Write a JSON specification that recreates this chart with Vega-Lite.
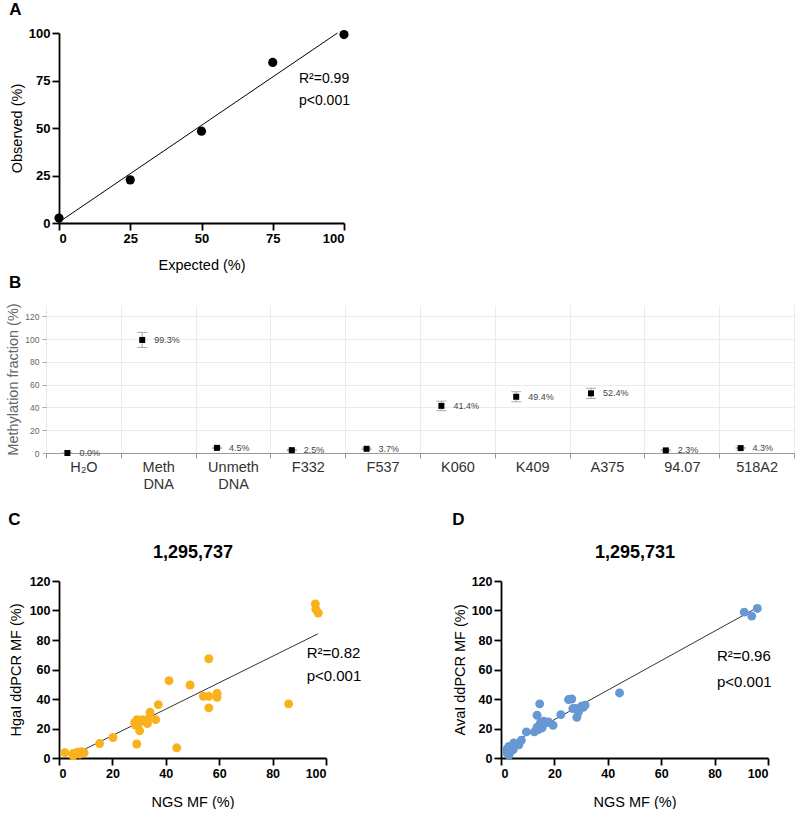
{
  "$schema": "https://vega.github.io/schema/vega-lite/v6.json",
  "padding": {"left": 4, "top": 1, "right": 2, "bottom": 0},
  "config": {
    "font": "Liberation Sans",
    "view": {"stroke": null},
    "axis": {"grid": false, "labelOverlap": false, "domainColor": "black", "domainWidth": 1.8, "tickColor": "black", "tickWidth": 1.8, "tickSize": 7, "labelFontWeight": "bold", "labelFontSize": 13, "labelColor": "black", "titleFontWeight": "normal", "titleFontSize": 14.5, "titleColor": "black", "labelPadding": 2},
    "title": {"fontSize": 17, "fontWeight": "bold", "color": "black"}
  },
  "spacing": 20,
  "vconcat": [
    {
      "spacing": 1,
      "vconcat": [
        {
          "title": {"text": "A", "anchor": "start", "frame": "bounds", "offset": 8},
          "width": 285,
          "height": 190,
          "encoding": {
            "x": {"field": "x", "type": "quantitative", "title": "Expected (%)", "scale": {"domain": [0, 100], "nice": false}, "axis": {"values": [0, 25, 50, 75, 100], "titlePadding": 13}},
            "y": {"field": "y", "type": "quantitative", "title": "Observed (%)", "scale": {"domain": [0, 100], "nice": false}, "axis": {"values": [0, 25, 50, 75, 100], "titlePadding": 4}}
          },
          "layer": [
            {
              "data": {"values": [{"x": 0.7, "y": 1.2}, {"x": 97.7, "y": 100}]},
              "mark": {"type": "line", "color": "black", "strokeWidth": 1}
            },
            {
              "data": {"values": [{"x": 0, "y": 2.6}, {"x": 25, "y": 22.7}, {"x": 50, "y": 48.3}, {"x": 75, "y": 84.5}, {"x": 100, "y": 99.2}]},
              "mark": {"type": "circle", "color": "black", "size": 85, "opacity": 1}
            },
            {
              "data": {"values": [{"x": 84.2, "y": 75.6, "t": "R²=0.99"}, {"x": 84.2, "y": 64.2, "t": "p<0.001"}]},
              "mark": {"type": "text", "align": "left", "baseline": "middle", "fontSize": 14, "color": "black"},
              "encoding": {"text": {"field": "t"}}
            }
          ]
        },
        {
          "title": {"text": "B", "anchor": "start", "frame": "group", "offset": 11, "dx": -50},
          "width": 735,
          "height": 148,
          "data": {"values": [
            {"cat": "H₂O", "v": 0.0, "lo": 0, "hi": 0, "lab": "0.0%"},
            {"cat": "Meth DNA", "v": 99.3, "lo": 92.7, "hi": 105.9, "lab": "99.3%"},
            {"cat": "Unmeth DNA", "v": 4.5, "lo": 3.9, "hi": 5.1, "lab": "4.5%"},
            {"cat": "F332", "v": 2.5, "lo": 1.9, "hi": 3.1, "lab": "2.5%"},
            {"cat": "F537", "v": 3.7, "lo": 3.1, "hi": 4.3, "lab": "3.7%"},
            {"cat": "K060", "v": 41.4, "lo": 37.2, "hi": 45.6, "lab": "41.4%"},
            {"cat": "K409", "v": 49.4, "lo": 45.0, "hi": 53.8, "lab": "49.4%"},
            {"cat": "A375", "v": 52.4, "lo": 47.9, "hi": 56.9, "lab": "52.4%"},
            {"cat": "94.07", "v": 2.3, "lo": 1.7, "hi": 2.9, "lab": "2.3%"},
            {"cat": "518A2", "v": 4.3, "lo": 3.8, "hi": 4.8, "lab": "4.3%"}
          ]},
          "encoding": {
            "x": {"field": "cat", "type": "nominal", "sort": null, "scale": {"paddingInner": 0, "paddingOuter": 0, "range": [-13, 735]},
              "axis": {"title": null, "labelAngle": 0, "labelExpr": "split(datum.label, ' ')", "labelFontSize": 14.5, "labelFontWeight": "normal", "labelColor": "#333", "labelLineHeight": 17, "labelPadding": 2, "tickBand": "extent", "grid": true, "gridColor": "#ebebeb", "gridWidth": 1, "domainColor": "#999", "domainWidth": 1, "tickColor": "#999", "tickWidth": 1, "tickSize": 5}},
            "y": {"field": "v", "type": "quantitative", "title": "Methylation fraction (%)", "scale": {"domain": [0, 130], "nice": false},
              "axis": {"values": [0, 20, 40, 60, 80, 100, 120], "offset": 13, "titleFontSize": 14.5, "titleColor": "#666", "titleX": -26, "titlePadding": 2, "labelFontSize": 8.5, "labelFontWeight": "normal", "labelColor": "#666", "grid": true, "gridColor": "#ebebeb", "domain": false, "tickColor": "#aaa", "tickWidth": 1, "tickSize": 4, "labelPadding": 3}}
          },
          "layer": [
            {
              "mark": {"type": "rule", "color": "#aaa", "strokeWidth": 1, "xOffset": -16},
              "encoding": {
                "y": {"field": "lo", "type": "quantitative", "title": "Methylation fraction (%)", "scale": {"domain": [0, 130], "nice": false}},
                "y2": {"field": "hi"}
              }
            },
            {
              "mark": {"type": "tick", "orient": "horizontal", "size": 10, "thickness": 1, "color": "#aaa", "opacity": 1, "xOffset": -16},
              "encoding": {
                "y": {"field": "lo", "type": "quantitative", "title": "Methylation fraction (%)", "scale": {"domain": [0, 130], "nice": false}}
              }
            },
            {
              "mark": {"type": "tick", "orient": "horizontal", "size": 10, "thickness": 1, "color": "#aaa", "opacity": 1, "xOffset": -16},
              "encoding": {
                "y": {"field": "hi", "type": "quantitative", "title": "Methylation fraction (%)", "scale": {"domain": [0, 130], "nice": false}}
              }
            },
            {
              "mark": {"type": "square", "color": "black", "size": 36, "opacity": 1, "filled": true, "xOffset": -16}
            },
            {
              "mark": {"type": "text", "align": "left", "baseline": "middle", "dx": 12, "xOffset": -16, "fontSize": 9, "color": "#444"},
              "encoding": {
                "text": {"field": "lab"}
              }
            }
          ]
        }
      ]
    },
    {
      "spacing": 90,
      "hconcat": [
        {
          "title": {"text": "C", "anchor": "start", "frame": "bounds", "offset": 14},
          "width": 267,
          "height": 177,
          "resolve": {"scale": {"x": "independent"}, "axis": {"x": "independent"}},
          "layer": [
            {
              "encoding": {
                "x": {"field": "x", "type": "quantitative", "title": "NGS MF (%)", "scale": {"domain": [0, 100], "nice": false}, "axis": {"values": [0, 20, 40, 60, 80, 100], "titlePadding": 16, "labelFontSize": 12.5}},
                "y": {"field": "y", "type": "quantitative", "title": "HgaI ddPCR MF (%)", "scale": {"domain": [0, 120], "nice": false}, "axis": {"values": [0, 20, 40, 60, 80, 100, 120], "titlePadding": 6, "labelFontSize": 12.5}}
              },
              "layer": [
                {
                  "data": {"values": [{"x": 5, "y": 1.8}, {"x": 97, "y": 84.2}]},
                  "mark": {"type": "line", "color": "#333", "strokeWidth": 1}
                },
                {
                  "data": {"values": [
                    {"x": 2.2, "y": 3.6}, {"x": 5.3, "y": 3.0}, {"x": 5.3, "y": 1.5}, {"x": 6.9, "y": 4.0}, {"x": 7.7, "y": 2.7}, {"x": 8.4, "y": 4.2}, {"x": 9.4, "y": 3.5},
                    {"x": 15.2, "y": 9.8}, {"x": 20.2, "y": 13.9}, {"x": 29.1, "y": 9.5}, {"x": 30.2, "y": 18.4},
                    {"x": 28.3, "y": 24.0}, {"x": 28.6, "y": 22.3}, {"x": 29.2, "y": 26.0}, {"x": 30.2, "y": 24.6}, {"x": 29.6, "y": 22.6}, {"x": 31.2, "y": 26.0},
                    {"x": 33.1, "y": 23.3}, {"x": 33.5, "y": 26.5}, {"x": 34.1, "y": 31.0}, {"x": 36.2, "y": 26.0}, {"x": 37.2, "y": 36.2},
                    {"x": 41.2, "y": 52.4}, {"x": 44.1, "y": 6.9}, {"x": 49.1, "y": 49.5}, {"x": 54.1, "y": 41.8}, {"x": 56.1, "y": 41.8}, {"x": 56.1, "y": 34.0}, {"x": 56.1, "y": 67.3},
                    {"x": 59.2, "y": 43.8}, {"x": 59.2, "y": 41.2}, {"x": 86.0, "y": 36.7},
                    {"x": 96.0, "y": 104.5}, {"x": 96.2, "y": 100.8}, {"x": 97.1, "y": 98.3}
                  ]},
                  "mark": {"type": "circle", "color": "#F9B21B", "size": 80, "opacity": 1}
                }
              ]
            },
            {
              "data": {"values": [{"x": 92.75, "y": 71.3, "t": "R²=0.82"}, {"x": 92.75, "y": 55.5, "t": "p<0.001"}]},
              "mark": {"type": "text", "align": "left", "baseline": "middle", "fontSize": 15, "color": "black"},
              "encoding": {
                "x": {"field": "x", "type": "quantitative", "title": "1,295,737", "scale": {"domain": [0, 100], "nice": false},
                  "axis": {"orient": "top", "labels": false, "ticks": false, "domain": false, "titleFontSize": 18, "titleFontWeight": "bold", "titlePadding": 20}},
                "y": {"field": "y", "type": "quantitative", "title": "HgaI ddPCR MF (%)", "scale": {"domain": [0, 120], "nice": false}, "axis": {"values": [0, 20, 40, 60, 80, 100, 120], "titlePadding": 6, "labelFontSize": 12.5}},
                "text": {"field": "t"}
              }
            }
          ]
        },
        {
          "title": {"text": "D", "anchor": "start", "frame": "bounds", "offset": 14},
          "width": 267,
          "height": 177,
          "resolve": {"scale": {"x": "independent"}, "axis": {"x": "independent"}},
          "layer": [
            {
              "encoding": {
                "x": {"field": "x", "type": "quantitative", "title": "NGS MF (%)", "scale": {"domain": [0, 100], "nice": false}, "axis": {"values": [0, 20, 40, 60, 80, 100], "titlePadding": 16, "labelFontSize": 12.5}},
                "y": {"field": "y", "type": "quantitative", "title": "AvaI ddPCR MF (%)", "scale": {"domain": [0, 120], "nice": false}, "axis": {"values": [0, 20, 40, 60, 80, 100, 120], "titlePadding": 4, "labelFontSize": 12.5}}
              },
              "layer": [
                {
                  "data": {"values": [{"x": 2, "y": 8}, {"x": 96, "y": 102}]},
                  "mark": {"type": "line", "color": "#333", "strokeWidth": 1}
                },
                {
                  "data": {"values": [
                    {"x": 2.97, "y": 1.8}, {"x": 2.35, "y": 6.3}, {"x": 3.6, "y": 4.5}, {"x": 4.6, "y": 5.7}, {"x": 4.8, "y": 10.2}, {"x": 3.0, "y": 7.9}, {"x": 2.2, "y": 3.5},
                    {"x": 6.7, "y": 9.0}, {"x": 7.6, "y": 12.0}, {"x": 9.5, "y": 17.7}, {"x": 12.5, "y": 17.7}, {"x": 13.5, "y": 20.8}, {"x": 14.5, "y": 36.7}, {"x": 13.5, "y": 29.0},
                    {"x": 14.75, "y": 23.8}, {"x": 16.0, "y": 24.9}, {"x": 17.0, "y": 23.8}, {"x": 17.8, "y": 24.5}, {"x": 19.5, "y": 22.2}, {"x": 15.4, "y": 20.4}, {"x": 14.0, "y": 19.3},
                    {"x": 22.4, "y": 29.4}, {"x": 25.3, "y": 39.6}, {"x": 26.5, "y": 40.0}, {"x": 26.9, "y": 33.5}, {"x": 28.0, "y": 33.5}, {"x": 28.4, "y": 27.6}, {"x": 29.0, "y": 31.2},
                    {"x": 30.2, "y": 35.1}, {"x": 31.5, "y": 35.8}, {"x": 30.8, "y": 34.4}, {"x": 44.4, "y": 44.1},
                    {"x": 91.1, "y": 98.9}, {"x": 93.9, "y": 96.2}, {"x": 96.0, "y": 101.4}
                  ]},
                  "mark": {"type": "circle", "color": "#6699D3", "size": 80, "opacity": 1}
                }
              ]
            },
            {
              "data": {"values": [{"x": 80.9, "y": 69.0, "t": "R²=0.96"}, {"x": 80.9, "y": 51.6, "t": "p<0.001"}]},
              "mark": {"type": "text", "align": "left", "baseline": "middle", "fontSize": 15, "color": "black"},
              "encoding": {
                "x": {"field": "x", "type": "quantitative", "title": "1,295,731", "scale": {"domain": [0, 100], "nice": false},
                  "axis": {"orient": "top", "labels": false, "ticks": false, "domain": false, "titleFontSize": 18, "titleFontWeight": "bold", "titlePadding": 20}},
                "y": {"field": "y", "type": "quantitative", "title": "AvaI ddPCR MF (%)", "scale": {"domain": [0, 120], "nice": false}, "axis": {"values": [0, 20, 40, 60, 80, 100, 120], "titlePadding": 4, "labelFontSize": 12.5}},
                "text": {"field": "t"}
              }
            }
          ]
        }
      ]
    }
  ]
}
